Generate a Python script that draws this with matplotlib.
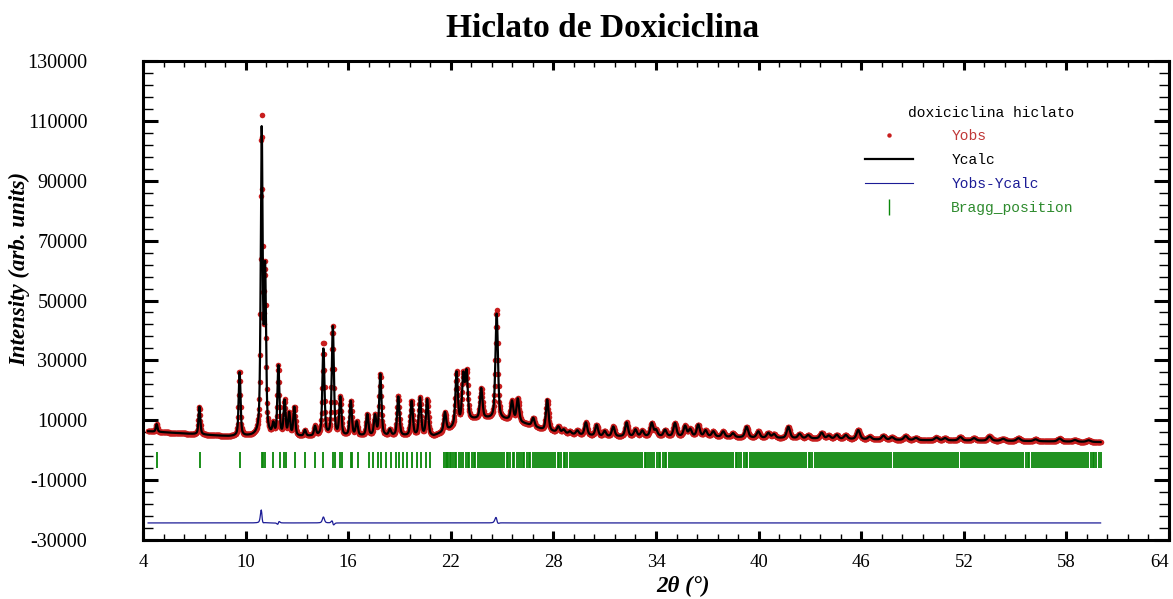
import numpy as np
import matplotlib
matplotlib.use("Agg")
import matplotlib.pyplot as plt
from matplotlib.ticker import AutoMinorLocator
from matplotlib.lines import Line2D

# scan range of the measurement (degrees 2theta)
scan_start = 4.3
scan_end = 60.0
scan_step = 0.02

# background anchor points
bg_pos = [4.3, 6.0, 9.0, 13.0, 17.0, 21.0, 22.0, 23.0, 24.0, 25.5, 26.5, 27.5, 29.0,
          31.0, 34.0, 37.0, 40.0, 44.0, 48.0, 52.0, 56.0, 60.0]
bg_int = [6300, 5700, 4600, 4500, 4700, 4600, 7000, 10000, 10500, 10000, 8500, 6500, 5300,
          4500, 4600, 4500, 4100, 3800, 3400, 3200, 3000, 2700]

# reflections: position and observed / calculated peak top
peak_pos = [4.80, 7.30, 9.65, 10.94, 11.14, 11.62, 11.92, 12.28, 12.55, 12.85, 13.47, 14.06,
            14.55, 15.10, 15.54, 16.15, 16.50, 17.12, 17.57, 17.88, 18.44, 18.93, 19.71, 20.20,
            20.62, 21.66, 22.34, 22.73, 22.92, 23.78, 24.68, 25.58, 25.92, 26.82, 27.64, 28.29,
            28.97, 29.90, 30.53, 31.50, 32.28, 33.75, 34.53, 35.11, 35.70, 36.47, 37.35, 37.93,
            39.30, 39.98, 40.57, 41.74, 43.69, 44.57, 45.83, 47.30, 48.60, 50.40, 51.80, 53.50,
            55.20, 57.60,
            28.60, 29.40, 31.00, 32.80, 33.20, 34.00, 36.00, 36.90, 38.50, 40.90, 42.40, 42.90,
            44.10, 45.10, 46.50, 47.80, 49.20, 50.90, 52.60, 54.30, 56.20, 58.50, 59.30]
peak_obs = [8700, 14500, 26300, 109000, 58000, 8000, 27700, 16000, 12000, 14200, 6500, 7700,
            36000, 41000, 17300, 16300, 9200, 11800, 11300, 25200, 6700, 17900, 16300, 17200,
            16700, 12500, 25700, 24300, 25400, 20500, 46800, 16200, 17000, 10700, 16800, 7800,
            6200, 9200, 8400, 7800, 9200, 9000, 6700, 9000, 8000, 8400, 6200, 6200,
            7800, 6200, 5700, 7800, 5800, 5100, 6700, 4800, 4700, 4200, 4400, 4600,
            4000, 3900,
            6800, 6500, 6300, 6800, 6400, 6600, 6900, 6500, 5600, 5300, 5400, 5000,
            4800, 5000, 4500, 4300, 4100, 4000, 4000, 3800, 3600, 3400, 3300]
peak_calc = [8700, 14500, 26300, 105500, 58000, 8000, 27700, 16000, 12000, 14200, 6500, 7700,
             34000, 41000, 17300, 16300, 9200, 11800, 11300, 25200, 6700, 17900, 16300, 17200,
             16700, 12500, 25700, 24300, 25400, 20500, 45500, 16200, 17000, 10700, 16800, 7800,
             6200, 9200, 8400, 7800, 9200, 9000, 6700, 9000, 8000, 8400, 6200, 6200,
             7800, 6200, 5700, 7800, 5800, 5100, 6700, 4800, 4700, 4200, 4400, 4600,
             4000, 3900,
             6800, 6500, 6300, 6800, 6400, 6600, 6900, 6500, 5600, 5300, 5400, 5000,
             4800, 5000, 4500, 4300, 4100, 4000, 4000, 3800, 3600, 3400, 3300]

# small position misfits of the refined model
shift_pos = [10.94, 24.68, 11.92, 15.10]
shift_by = [0.0015, 0.003, -0.002, 0.002]

# Bragg reflection positions
bragg_pos = [4.84, 7.33, 9.67, 10.94, 11.04, 11.13, 11.62, 12.01, 12.25, 12.34, 12.89, 13.47,
             14.06, 14.55, 15.11, 15.21, 15.52, 15.62, 16.14, 16.24, 16.56, 17.19, 17.47, 17.73,
             17.90, 18.20, 18.48, 18.78, 18.99, 19.20, 19.44, 19.71, 20.00, 20.28, 20.56, 20.80,
             21.62, 21.70, 21.77, 21.85, 21.93,
             22.02, 22.14, 22.25, 22.33, 22.47, 22.58, 22.71, 22.86,
             23.00, 23.09, 23.22, 23.35, 23.44, 23.58, 23.70, 23.83, 23.94,
             24.06, 24.18, 24.29, 24.41, 24.55, 24.63, 24.76, 24.90,
             25.01, 25.14, 25.27, 25.36, 25.49, 25.62, 25.71, 25.85, 25.96,
             26.08, 26.21, 26.30, 26.44, 26.57, 26.66, 26.80, 26.92,
             27.05, 27.16, 27.29, 27.40, 27.52, 27.61, 27.74, 27.88,
             28.00, 28.11, 28.24, 28.35, 28.46, 28.60, 28.69, 28.82, 28.95,
             29.07, 29.18, 29.31, 29.42, 29.53, 29.66, 29.77, 29.90,
             30.02, 30.13, 30.25, 30.38, 30.47, 30.60, 30.72, 30.84, 30.95,
             31.08, 31.19, 31.30, 31.43, 31.55, 31.64, 31.78, 31.89,
             32.01, 32.12, 32.26, 32.35, 32.49, 32.60, 32.71, 32.85, 32.96,
             33.09, 33.20, 33.33, 33.44, 33.56, 33.67, 33.79, 33.91,
             34.03, 34.15, 34.26, 34.39, 34.50, 34.61, 34.74, 34.86, 34.97,
             35.10, 35.21, 35.34, 35.45, 35.57, 35.68, 35.81, 35.93,
             36.04, 36.16, 36.29, 36.40, 36.52, 36.63, 36.76, 36.88, 36.99,
             37.11, 37.23, 37.34, 37.47, 37.58, 37.70, 37.82, 37.94,
             38.05, 38.18, 38.29, 38.41, 38.53, 38.65, 38.76, 38.88, 38.99,
             39.12, 39.24, 39.35, 39.48, 39.59, 39.71, 39.84, 39.95,
             40.07, 40.19, 40.31, 40.42, 40.55, 40.66, 40.78, 40.90,
             41.02, 41.14, 41.26, 41.37, 41.50, 41.61, 41.73, 41.85, 41.96,
             42.09, 42.20, 42.32, 42.45, 42.56, 42.68, 42.80, 42.92,
             43.03, 43.15, 43.28, 43.39, 43.51, 43.63, 43.75, 43.87, 43.98,
             44.10, 44.22, 44.34, 44.46, 44.57, 44.70, 44.81, 44.93,
             45.05, 45.17, 45.29, 45.40, 45.53, 45.64, 45.76, 45.88, 45.99,
             46.11, 46.23, 46.35, 46.47, 46.58, 46.70, 46.82, 46.94,
             47.06, 47.18, 47.30, 47.41, 47.53, 47.65, 47.77, 47.89,
             48.01, 48.13, 48.25, 48.36, 48.48, 48.60, 48.72, 48.84, 48.96,
             49.08, 49.20, 49.31, 49.43, 49.55, 49.67, 49.79, 49.91,
             50.03, 50.15, 50.26, 50.38, 50.50, 50.62, 50.74, 50.86, 50.98,
             51.10, 51.21, 51.33, 51.45, 51.57, 51.69, 51.81, 51.93,
             52.05, 52.16, 52.28, 52.40, 52.52, 52.64, 52.76, 52.88, 52.99,
             53.11, 53.23, 53.35, 53.47, 53.59, 53.71, 53.83, 53.94,
             54.06, 54.18, 54.30, 54.42, 54.54, 54.66, 54.78, 54.89,
             55.01, 55.13, 55.25, 55.37, 55.49, 55.61, 55.73, 55.84, 55.96,
             56.08, 56.20, 56.32, 56.44, 56.56, 56.68, 56.79, 56.91,
             57.03, 57.15, 57.27, 57.39, 57.51, 57.63, 57.74, 57.86, 57.98,
             58.10, 58.22, 58.34, 58.46, 58.58, 58.69, 58.81, 58.93,
             59.05, 59.17, 59.29, 59.41, 59.53, 59.64, 59.76, 59.88, 60.00]

# where the extra rows sit below the pattern
bragg_low = -6000
bragg_high = -600
diff_offset = -24300

x_ticks = [4, 10, 16, 22, 28, 34, 40, 46, 52, 58, 64]
y_ticks = [-30000, -10000, 10000, 30000, 50000, 70000, 90000, 110000, 130000]

RED = "#c81e1e"
BLUE = "#1c1c96"
GREEN = "#0a870a"


def pseudo_voigt(x, pos, height, fwhm, eta=0.5):
    d = (x - pos) / fwhm
    gauss = np.exp(-4 * np.log(2) * d ** 2)
    lorentz = 1 / (1 + 4 * d ** 2)
    return height * (eta * lorentz + (1 - eta) * gauss)


def build_profile(x, tops, shifted=False):
    # background plus one peak per reflection, heights taken above background
    bg = np.interp(x, bg_pos, bg_int)
    y = bg.copy()
    for pos, top in zip(peak_pos, tops):
        net = top - np.interp(pos, bg_pos, bg_int)
        fwhm = 0.11 + 0.003 * (pos - 4)
        centre = pos
        if shifted and pos in shift_pos:
            centre = pos + shift_by[shift_pos.index(pos)]
        y += pseudo_voigt(x, centre, net, fwhm)
    return y


two_theta = np.arange(scan_start, scan_end + scan_step / 2, scan_step)
y_obs = build_profile(two_theta, peak_obs)
y_calc = build_profile(two_theta, peak_calc, shifted=True)
y_diff = y_obs - y_calc + diff_offset

plt.rcParams["font.family"] = ["Liberation Serif", "DejaVu Serif"]
plt.rcParams["axes.unicode_minus"] = False

fig = plt.figure(figsize=(11.73, 5.99), dpi=100)
ax = fig.add_axes([143 / 1173, 59 / 599, 1026 / 1173, 479 / 599])

ax.plot(two_theta, y_obs, ls="", marker="o", ms=4.0, mew=0, color=RED, zorder=2)
ax.plot(two_theta, y_calc, color="black", lw=1.6, zorder=3)
ax.plot(two_theta, y_diff, color=BLUE, lw=0.9, zorder=3)
ax.vlines(bragg_pos, bragg_low, bragg_high, color=GREEN, lw=1.3, zorder=2)

ax.set_xlim(4, 64)
ax.set_ylim(-30000, 130000)
ax.set_xticks(x_ticks)
ax.set_yticks(y_ticks)
ax.xaxis.set_minor_locator(AutoMinorLocator(5))
ax.yaxis.set_minor_locator(AutoMinorLocator(5))

for side in ax.spines.values():
    side.set_linewidth(2.2)
ax.tick_params(which="both", direction="in", top=True, right=True)
ax.tick_params(axis="y", which="major", length=10.5, width=2.2, labelsize=14.5, pad=40)
ax.tick_params(axis="y", which="minor", length=7, width=1.0)
ax.tick_params(axis="x", which="major", length=6.5, width=2.2, labelsize=13.5, pad=10)
ax.tick_params(axis="x", which="minor", length=4.3, width=1.0)
for lab in ax.get_yticklabels():
    lab.set_horizontalalignment("right")
# last label kept inside the figure edge
ax.get_xticklabels()[-1].set_horizontalalignment("right")

ax.set_ylabel("Intensity (arb. units)", fontsize=16.5, fontweight="bold", fontstyle="italic")
ax.yaxis.set_label_coords(-0.11, 0.566)
ax.set_xlabel("2θ (°)", fontsize=16.5, fontweight="bold", fontstyle="italic")
ax.xaxis.set_label_coords(0.526, -0.075)

fig.suptitle("Hiclato de Doxiciclina", x=603 / 1173, y=0.952, va="center",
             fontsize=24, fontweight="bold")

handles = [
    Line2D([], [], ls="", marker="o", ms=3.2, mew=0, color=RED),
    Line2D([], [], color="black", lw=1.6),
    Line2D([], [], color=BLUE, lw=0.8),
    Line2D([], [], ls="", marker="|", ms=12, mew=1.0, color=GREEN),
]
labels = ["Yobs", "Ycalc", "Yobs-Ycalc", "Bragg_position"]
leg = ax.legend(handles, labels, title="doxiciclina hiclato", loc="upper left",
                bbox_to_anchor=(0.704, 0.907), frameon=False, borderpad=0, borderaxespad=0,
                prop={"family": "Liberation Mono", "size": 10.5},
                title_fontproperties={"family": "Liberation Mono", "size": 10.5},
                labelcolor=["#c03838", "black", BLUE, "#2e8b2e"], handlelength=3.3,
                handletextpad=2.6, labelspacing=0.68, alignment="right")

fig.savefig("out.png", dpi=100)
